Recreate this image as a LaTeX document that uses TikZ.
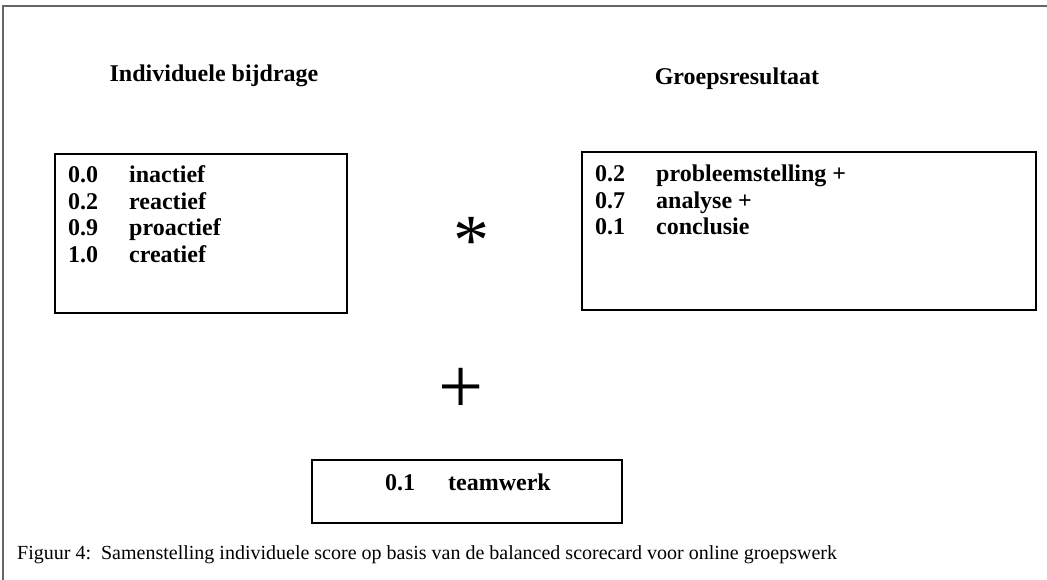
\documentclass[tikz,border=0pt]{standalone}
\usepackage{fontspec}
\setmainfont{Liberation Serif}
\tikzset{
  scorebox/.style={draw, line width=1.2pt, inner sep=0pt},
  heading/.style={font=\fontsize{24}{26}\selectfont\bfseries, anchor=base, inner sep=0pt},
  itemlist/.style={font=\fontsize{24}{26.5}\selectfont\bfseries, anchor=base west, inner sep=0pt},
  operator/.style={inner sep=0pt},
}

\begin{document}
\begin{tikzpicture}[x=1pt,y=-1pt]
  \useasboundingbox (0,0) rectangle (1047,580);
  \draw[line width=2pt, black!60] (3,580) -- (3,6) -- (1047,6);

  \node[heading] (indivhead) at (214,82) {Individuele bijdrage};
  \node[heading] (groephead) at (737,85) {Groepsresultaat};

  \node[scorebox, minimum width=292pt, minimum height=159pt] (indiv) at (201,233.5) {};
  \node[itemlist] (indivlist) at (68,183) {\begin{tabular}[t]{@{}p{61pt}@{}l@{}}
    0.0 & inactief\\ 0.2 & reactief\\ 0.9 & proactief\\ 1.0 & creatief
  \end{tabular}};

  \node[scorebox, minimum width=454pt, minimum height=158pt] (groep) at (809,231) {};
  \node[itemlist] (groeplist) at (595,182) {\begin{tabular}[t]{@{}p{61pt}@{}l@{}}
    0.2 & probleemstelling +\\ 0.7 & analyse +\\ 0.1 & conclusie
  \end{tabular}};

  \node[operator, font=\fontsize{72}{72}\selectfont] (times) at (471,241) {*};
  \node[operator, font=\fontsize{80}{80}\selectfont] (plus) at (461,391) {+};

  \node[scorebox, minimum width=310pt, minimum height=63pt] (team) at (467,491.5) {};
  \node[itemlist] (teamlist) at (385,490) {\makebox[63pt][l]{0.1}teamwerk};

  \node[anchor=base west, inner sep=0pt, font=\fontsize{20}{22}\selectfont] (caption) at (17,559)
    {Figuur 4:\ \ Samenstelling individuele score op basis van de balanced scorecard voor online groepswerk};
\end{tikzpicture}
\end{document}
